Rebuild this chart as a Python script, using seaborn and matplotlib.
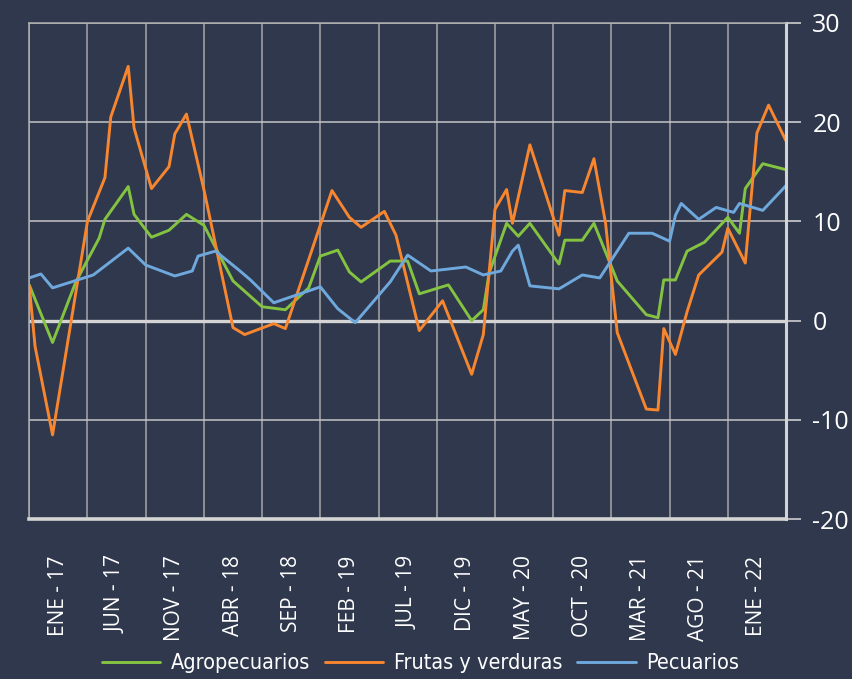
import matplotlib.pyplot as plt
from matplotlib.lines import Line2D
import pandas as pd
import seaborn as sns

# quincena index (0 = 1a quincena ENE-17) and annual change, %
agro_q = [0, 4, 8, 12, 13, 17, 18, 21, 24, 27, 30, 35, 40, 44, 48, 50, 53, 55, 57, 62, 65,
          67, 72, 76, 78, 79, 82, 84, 86, 91, 92, 95, 97, 101, 106, 108, 109, 111, 113, 116,
          120, 122, 123, 126, 130]
agro_v = [3.6, -2.2, 3.9, 8.3, 10.2, 13.5, 10.7, 8.4, 9.1, 10.7, 9.6, 4.0, 1.4, 1.1, 3.3, 6.5,
          7.1, 4.9, 3.9, 6.0, 6.0, 2.7, 3.6, 0.0, 1.1, 4.8, 9.8, 8.5, 9.8, 5.7, 8.1, 8.1, 9.8,
          4.0, 0.6, 0.3, 4.1, 4.1, 7.0, 7.9, 10.4, 8.8, 13.3, 15.8, 15.2]

frutas_q = [0, 1, 4, 10, 13, 14, 17, 18, 21, 24, 25, 27, 30, 35, 37, 42, 44, 52, 55, 57, 61,
            63, 67, 71, 76, 78, 80, 82, 83, 86, 91, 92, 95, 97, 99, 101, 106, 108, 109, 111,
            113, 115, 119, 120, 123, 125, 127, 130]
frutas_v = [3.5, -2.6, -11.5, 10.0, 14.4, 20.5, 25.6, 19.4, 13.3, 15.5, 18.8, 20.8, 13.2, -0.7,
            -1.4, -0.3, -0.8, 13.1, 10.4, 9.4, 11.0, 8.6, -1.0, 2.0, -5.4, -1.4, 11.2, 13.2,
            9.8, 17.7, 8.6, 13.1, 12.9, 16.3, 9.8, -1.2, -8.9, -9.0, -0.8, -3.4, 0.9, 4.6, 6.9,
            9.3, 5.8, 18.9, 21.7, 18.1]

pecu_q = [0, 2, 4, 11, 17, 20, 25, 28, 29, 32, 36, 38, 42, 46, 50, 53, 56, 62, 65, 69, 75, 78,
          81, 83, 84, 86, 91, 95, 98, 103, 107, 110, 111, 112, 115, 118, 121, 122, 126, 130]
pecu_v = [4.3, 4.7, 3.3, 4.6, 7.3, 5.6, 4.5, 5.0, 6.5, 7.0, 5.1, 4.1, 1.8, 2.6, 3.4, 1.2, -0.2,
          3.9, 6.6, 5.0, 5.4, 4.6, 5.0, 7.0, 7.6, 3.5, 3.2, 4.6, 4.3, 8.8, 8.8, 8.0, 10.6, 11.8,
          10.2, 11.4, 10.9, 11.8, 11.1, 13.6]

series = ['Agropecuarios', 'Frutas y verduras', 'Pecuarios']
etiquetas = ['ENE - 17', 'JUN - 17', 'NOV - 17', 'ABR - 18', 'SEP - 18', 'FEB - 19', 'JUL - 19',
             'DIC - 19', 'MAY - 20', 'OCT - 20', 'MAR - 21', 'AGO - 21', 'ENE - 22']

colores = {'Agropecuarios': '#84c341', 'Frutas y verduras': '#f7862f', 'Pecuarios': '#6fa8dc'}
fondo = '#2f384d'

df = pd.concat([
    pd.DataFrame({'quincena': agro_q, 'valor': agro_v, 'serie': series[0]}),
    pd.DataFrame({'quincena': frutas_q, 'valor': frutas_v, 'serie': series[1]}),
    pd.DataFrame({'quincena': pecu_q, 'valor': pecu_v, 'serie': series[2]}),
])

sns.set_style('dark')
plt.rcParams['font.family'] = ['Open Sans', 'DejaVu Sans']
plt.rcParams['axes.unicode_minus'] = False

fig = plt.figure(figsize=(8.53, 6.79), dpi=100, facecolor=fondo)
ax = fig.add_axes([0.0343, 0.2352, 0.8872, 0.7314])
ax.set_facecolor(fondo)

sns.lineplot(data=df, x='quincena', y='valor', hue='serie', palette=colores,
             linewidth=2.1, errorbar=None, legend=False, ax=ax)

ax.set_xlim(0, 130)
ax.set_ylim(-20, 30)
ax.set_xlabel('')
ax.set_ylabel('')

# y axis on the right
ax.yaxis.tick_right()
ax.set_yticks(range(-20, 31, 10))
ax.tick_params(axis='y', colors='#cfcfcf', labelcolor='white', labelsize=18,
               length=11, width=1.2, pad=8)

# x: ticks every 10 quincenas, labels centred between them
ax.set_xticks(range(0, 131, 10))
ax.set_xticklabels([])
ax.set_xticks([5 + 10 * i for i in range(len(etiquetas))], etiquetas, minor=True,
              rotation=90)
ax.tick_params(axis='x', which='major', colors='#bdbdbd', length=9, width=1.2)
ax.tick_params(axis='x', which='minor', length=0, pad=26, labelsize=15,
               labelcolor='white')

ax.grid(axis='y', color='#c4c4c4', linewidth=1.1)
ax.grid(axis='x', which='major', color='#a8a8a8', linewidth=1.1)
ax.axhline(0, color='#d4d4d4', linewidth=2.4, zorder=1.5)

for lado in ['top', 'left']:
    ax.spines[lado].set_color('#b0b0b0')
    ax.spines[lado].set_linewidth(1.1)
ax.spines['bottom'].set_color('#d4d4d4')
ax.spines['bottom'].set_linewidth(2.6)
ax.spines['right'].set_color('#d4d4d4')
ax.spines['right'].set_linewidth(2.2)

handles = [Line2D([], [], color=colores[s], linewidth=2.1) for s in series]
fig.legend(handles, series, loc='lower center', bbox_to_anchor=(0.493, -0.02), ncol=3,
           frameon=False, labelcolor='white', handlelength=2.7, handletextpad=0.5,
           columnspacing=0.7,
           prop={'family': 'DejaVu Sans', 'stretch': 'condensed', 'size': 15.5})

fig.savefig('out.png', dpi=100, facecolor=fondo)
